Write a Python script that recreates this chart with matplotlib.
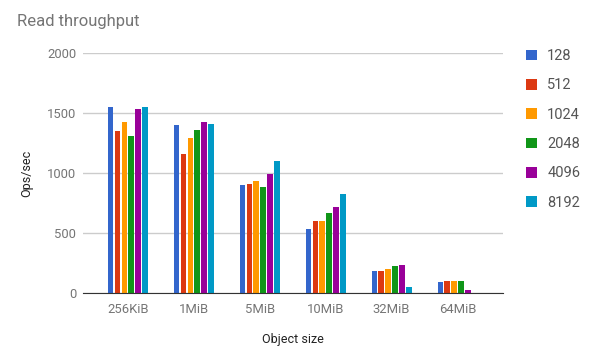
import matplotlib
matplotlib.use("Agg")
import matplotlib.pyplot as plt
import numpy as np

plt.rcParams["font.family"] = ["Roboto", "DejaVu Sans"]

sizes = ["256KiB", "1MiB", "5MiB", "10MiB", "32MiB", "64MiB"]
series_names = ["128", "512", "1024", "2048", "4096", "8192"]
ops_128 = [1547, 1397, 905, 536, 186, 89]
ops_512 = [1347, 1158, 913, 603, 185, 97]
ops_1024 = [1422, 1289, 933, 603, 205, 97]
ops_2048 = [1305, 1355, 888, 667, 230, 105]
ops_4096 = [1530, 1422, 991, 719, 238, 25]
ops_8192 = [1547, 1405, 1100, 822, 55, 0]
colors = ["#3366cc", "#dc3912", "#ff9900", "#109618", "#990099", "#0099c6"]

all_series = [ops_128, ops_512, ops_1024, ops_2048, ops_4096, ops_8192]

fig = plt.figure(figsize=(5.9, 3.61), dpi=100)
ax = fig.add_axes([83 / 590, 0.188, (503 - 83) / 590, 0.853 - 0.188])

x = np.arange(len(sizes))
slot = 0.104
width = 0.085
for i, (name, vals, col) in enumerate(zip(series_names, all_series, colors)):
    offs = (i - 2.5) * slot
    ax.bar(x + offs, vals, width=width, color=col, label=name, zorder=3)

ax.set_xlim(-0.68, 5.69)
ax.set_ylim(0, 2000)
ax.set_yticks([0, 500, 1000, 1500, 2000])
ax.set_xticks(x)
ax.set_xticklabels(sizes)
ax.grid(axis="y", color="#cccccc", linewidth=1, zorder=0)
for s in ["top", "right", "left"]:
    ax.spines[s].set_visible(False)
ax.spines["bottom"].set_color("#333333")
ax.spines["bottom"].set_zorder(4)
ax.tick_params(axis="both", length=0, labelsize=9.4, labelcolor="#757575")
ax.tick_params(axis="y", pad=5)
ax.tick_params(axis="x", pad=7)

ax.set_xlabel("Object size", fontsize=9, color="#222222", labelpad=12)
ax.set_ylabel("Ops/sec", fontsize=9, color="#222222", labelpad=10)
fig.text(0.029, 0.94, "Read throughput", fontsize=12, color="#757575", va="center")

leg = fig.legend(loc="upper left", bbox_to_anchor=(513 / 590, 1 - 36 / 361), frameon=False,
                 fontsize=10.5, handlelength=0.75, handleheight=0.75,
                 labelspacing=1.05, handletextpad=0.7)
for t in leg.get_texts():
    t.set_color("#555555")

fig.savefig("out.png", dpi=100)
